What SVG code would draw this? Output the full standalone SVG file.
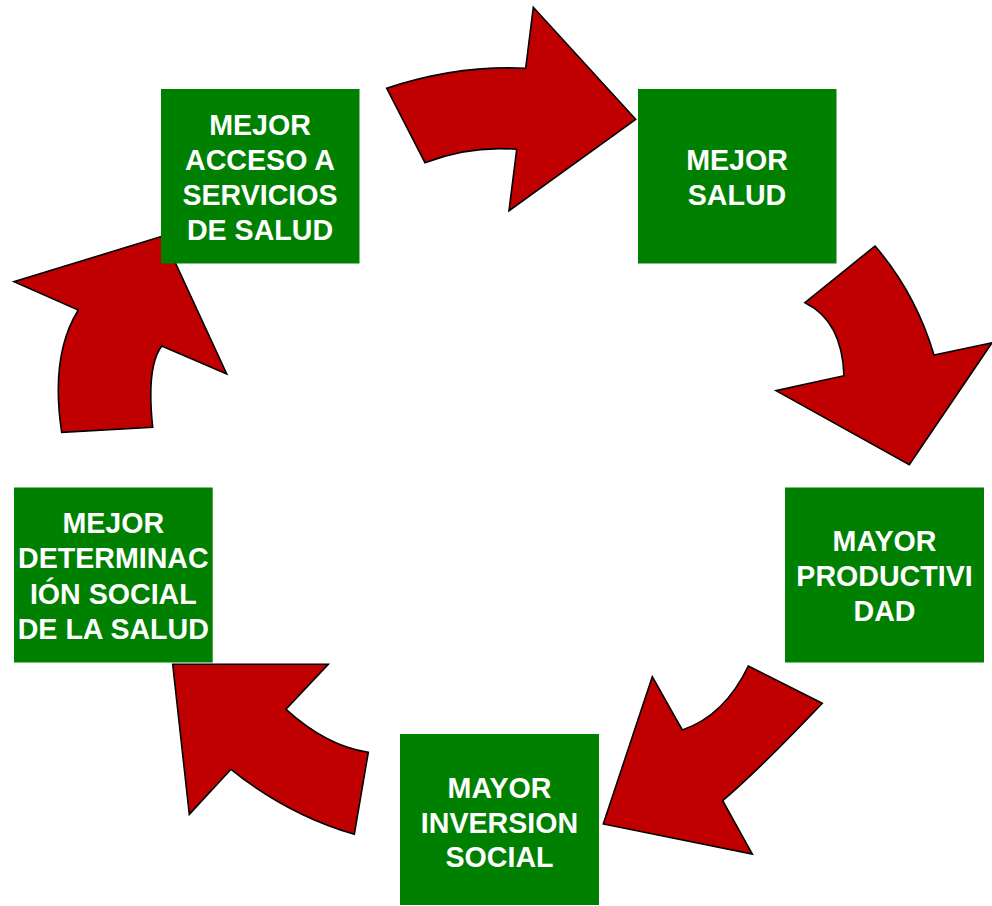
<svg xmlns="http://www.w3.org/2000/svg" width="992" height="906" viewBox="0 0 992 906">
<style>
.arrow{fill:#C00000;stroke:#000;stroke-width:1.6;stroke-linejoin:miter}
.box{fill:#008000}
.lbl{font-family:"Liberation Sans",Arial,sans-serif;font-weight:bold;font-size:28.6px;fill:#fff;text-anchor:middle}
</style>
<rect width="992" height="906" fill="#fff"/>
<g id="connectors">
<path class="arrow" d="M386.7,88.3 Q455.8,65.1 525.7,68.3 L533.3,7.3 L635.7,119.3 L509,210.7 L516.7,149.3 Q469.2,145.4 425,162.7 Z"/>
<path class="arrow" d="M875,246 Q915.5,292.9 934,355 L992,342.7 L909.3,464.7 L776,390.7 L844,375.7 Q842.1,320.8 805,302.7 Z"/>
<path class="arrow" d="M748.3,666 L822.3,703.3 Q760.9,768 722.7,800.7 L752.3,854 L603.3,824 L652.3,676.7 L682.3,730 Q724.7,715.4 748.3,666 Z"/>
<path class="arrow" d="M172.7,664.3 L328.3,664.3 L286,709.3 Q326.2,745.8 368.3,752.3 L354.3,834.3 Q287.3,814.8 231,769.3 L189.3,814.3 Z"/>
<path class="arrow" d="M163,236 L14,281.7 L78.3,310 Q50,355.5 61.7,432.3 L152.7,427.3 Q146.2,366.8 161.7,346 L226.7,374 Z"/>
</g>
<g id="node-acceso">
<rect class="box" x="161" y="89" width="198.5" height="174.5"/>
<text class="lbl" x="260" y="135">MEJOR</text>
<text class="lbl" x="260" y="170">ACCESO A</text>
<text class="lbl" x="260" y="204.5">SERVICIOS</text>
<text class="lbl" x="260" y="239.5">DE SALUD</text>
</g>
<g id="node-salud">
<rect class="box" x="638" y="89" width="198.5" height="174.5"/>
<text class="lbl" x="737" y="170">MEJOR</text>
<text class="lbl" x="737" y="204.5">SALUD</text>
</g>
<g id="node-productividad">
<rect class="box" x="785" y="487.5" width="199" height="175"/>
<text class="lbl" x="884.5" y="550.5">MAYOR</text>
<text class="lbl" x="884.5" y="585.5">PRODUCTIVI</text>
<text class="lbl" x="884.5" y="620.5">DAD</text>
</g>
<g id="node-inversion">
<rect class="box" x="400" y="734" width="199" height="171"/>
<text class="lbl" x="499.5" y="797.5">MAYOR</text>
<text class="lbl" x="499.5" y="832.5">INVERSION</text>
<text class="lbl" x="499.5" y="866.7">SOCIAL</text>
</g>
<g id="node-determinacion">
<rect class="box" x="14" y="487.5" width="198.7" height="175"/>
<text class="lbl" x="113.3" y="532.5">MEJOR</text>
<text class="lbl" x="113.3" y="568">DETERMINAC</text>
<text class="lbl" x="113.3" y="603.5">IÓN SOCIAL</text>
<text class="lbl" x="113.3" y="639">DE LA SALUD</text>
</g>
</svg>
